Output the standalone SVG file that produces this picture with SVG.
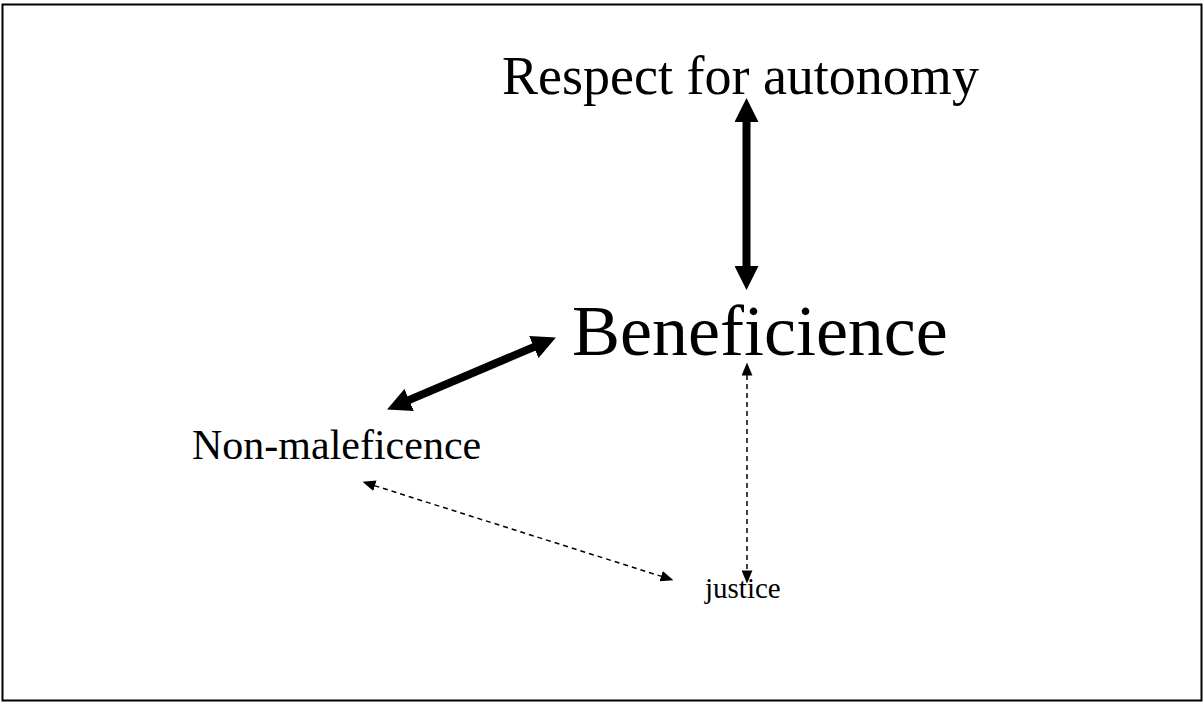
<svg xmlns="http://www.w3.org/2000/svg" width="1203" height="702" viewBox="0 0 1203 702">
<style>
.t{font-family:"Liberation Serif","Times New Roman",serif;fill:#000}
.thick{stroke:#000;stroke-width:8;fill:none}
.dash{stroke:#000;stroke-width:1.5;stroke-dasharray:5 4;fill:none}
</style>
<defs>
<marker id="bigHead" markerUnits="userSpaceOnUse" markerWidth="24" markerHeight="24" viewBox="0 0 23 23" refX="1" refY="11.5" orient="auto-start-reverse">
<path d="M0,0 L23,11.5 L0,23 z" fill="#000"/>
</marker>
<marker id="smallHead" markerUnits="userSpaceOnUse" markerWidth="13" markerHeight="11" viewBox="0 0 12 10" refX="0.5" refY="5" orient="auto-start-reverse">
<path d="M0,0 L12,5 L0,10 z" fill="#000"/>
</marker>
</defs>
<rect x="2.5" y="4.5" width="1199" height="696" fill="#fff" stroke="#000" stroke-width="2"/>
<g id="connectors">
<line class="thick" x1="746.5" y1="121" x2="746.5" y2="267" marker-start="url(#bigHead)" marker-end="url(#bigHead)"/>
<line class="thick" x1="408.2" y1="400.4" x2="534.8" y2="346.6" marker-start="url(#bigHead)" marker-end="url(#bigHead)"/>
<line class="dash" x1="747" y1="375" x2="747" y2="571" marker-start="url(#smallHead)" marker-end="url(#smallHead)"/>
<line class="dash" x1="374.4" y1="485.6" x2="661.6" y2="576.4" marker-start="url(#smallHead)" marker-end="url(#smallHead)"/>
</g>
<g id="autonomy"><text class="t" x="502" y="94" font-size="54">Respect for autonomy</text></g>
<g id="beneficience"><text class="t" x="572" y="355" font-size="72">Beneficience</text></g>
<g id="nonmaleficence"><text class="t" x="192" y="459" font-size="42">Non-maleficence</text></g>
<g id="justice"><text class="t" x="705" y="598" font-size="29">justice</text></g>
</svg>
